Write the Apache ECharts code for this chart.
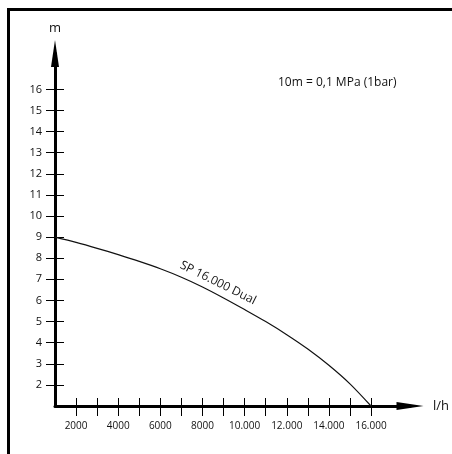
<!DOCTYPE html>
<html><head><meta charset="utf-8">
<script src="https://cdn.jsdelivr.net/npm/echarts@6/dist/echarts.min.js"></script>
<style>
html,body{margin:0;padding:0;background:#fff;}
#frame{position:absolute;left:7px;top:8px;width:470px;height:470px;border-top:3px solid #000;border-left:3px solid #000;box-sizing:border-box;}
#c{width:452px;height:454px;position:absolute;left:0;top:0;}
</style>
</head><body><div id="frame"></div><div id="c"></div>
<script>
// data (flow l/h, head m)
const flowValues = [1000, 2000, 3000, 4000, 5000, 6000, 7000, 8000, 9000, 10000, 11000, 12000, 13000, 14000, 15000, 16000];
const headValues = [9.0, 8.75, 8.47, 8.17, 7.85, 7.50, 7.10, 6.64, 6.12, 5.57, 5.00, 4.38, 3.70, 2.93, 2.05, 1.0];
const xTickValues = [2000, 3000, 4000, 5000, 6000, 7000, 8000, 9000, 10000, 11000, 12000, 13000, 14000, 15000, 16000];
const xLabelValues = [2000, 4000, 6000, 8000, 10000, 12000, 14000, 16000];
const yTickValues = [2, 3, 4, 5, 6, 7, 8, 9, 10, 11, 12, 13, 14, 15, 16];
const seriesName = 'SP 16.000 Dual';
const noteText = '10m = 0,1 MPa (1bar)';
const seriesLabelAt = [8736, 6.83];

const FONT = '"Open Sans", "Noto Sans", sans-serif';
const fmtX = v => v >= 10000 ? (v / 1000) + '.000' : String(v);

const chart = echarts.init(document.getElementById('c'), null, {renderer: 'canvas'});
const xCommon = {type: 'value', min: 1000, max: 17850, position: 'bottom', splitLine: {show: false}, axisLine: {onZero: false}};
const yCommon = {type: 'value', min: 1, max: 17.7, position: 'left', splitLine: {show: false}, axisLine: {onZero: false}};
chart.setOption({
  animation: false,
  backgroundColor: 'transparent',
  title: {text: noteText, left: 273, top: 72, textStyle: {fontFamily: FONT, fontSize: 12, fontWeight: 'normal', color: '#111'}},
  grid: {left: 55, top: 53.5, right: 42, bottom: 48, containLabel: false, outerBoundsMode: 'none'},
  xAxis: [
    Object.assign({}, xCommon, {
      name: 'l/h', nameLocation: 'end', nameGap: 23,
      nameTextStyle: {fontFamily: FONT, fontSize: 13, color: '#111'},
      axisLine: {show: true, onZero: false, symbol: ['none', 'triangle'], symbolSize: [8, 27], lineStyle: {color: '#000', width: 3}},
      axisTick: {show: true, inside: false, length: 10, customValues: xTickValues, lineStyle: {color: '#000', width: 1}},
      axisLabel: {show: true, margin: 15, customValues: xLabelValues, formatter: fmtX, fontFamily: FONT, fontSize: 10, color: '#111'}
    }),
    Object.assign({}, xCommon, {
      axisLine: {show: false, onZero: false},
      axisTick: {show: true, inside: true, length: 8, customValues: xTickValues, lineStyle: {color: '#000', width: 1}},
      axisLabel: {show: false}
    })
  ],
  yAxis: [
    Object.assign({}, yCommon, {
      name: 'm', nameLocation: 'end', nameGap: 19,
      nameTextStyle: {fontFamily: FONT, fontSize: 13, color: '#111', align: 'center'},
      axisLine: {show: true, onZero: false, symbol: ['none', 'triangle'], symbolSize: [8, 27], lineStyle: {color: '#000', width: 3}},
      axisTick: {show: true, inside: false, length: 9, customValues: yTickValues, lineStyle: {color: '#000', width: 1}},
      axisLabel: {show: true, margin: 13, customValues: yTickValues, fontFamily: FONT, fontSize: 11, color: '#111'}
    }),
    Object.assign({}, yCommon, {
      axisLine: {show: false, onZero: false},
      axisTick: {show: true, inside: true, length: 9, customValues: yTickValues, lineStyle: {color: '#000', width: 1}},
      axisLabel: {show: false}
    })
  ],
  series: [{
    name: seriesName, type: 'line', xAxisIndex: 0, yAxisIndex: 0,
    data: flowValues.map((x, i) => [x, headValues[i]]),
    smooth: 0.3, showSymbol: false, symbol: 'none',
    lineStyle: {color: '#111', width: 1.2}
  }]
});
const p = chart.convertToPixel({gridIndex: 0}, seriesLabelAt);
chart.setOption({
  graphic: [{
    type: 'text', x: p[0], y: p[1], rotation: -26.4 * Math.PI / 180,
    style: {text: seriesName, fontFamily: FONT, fontSize: 12, fill: '#111', align: 'center', verticalAlign: 'middle'}
  }]
});
</script>
</body></html>
